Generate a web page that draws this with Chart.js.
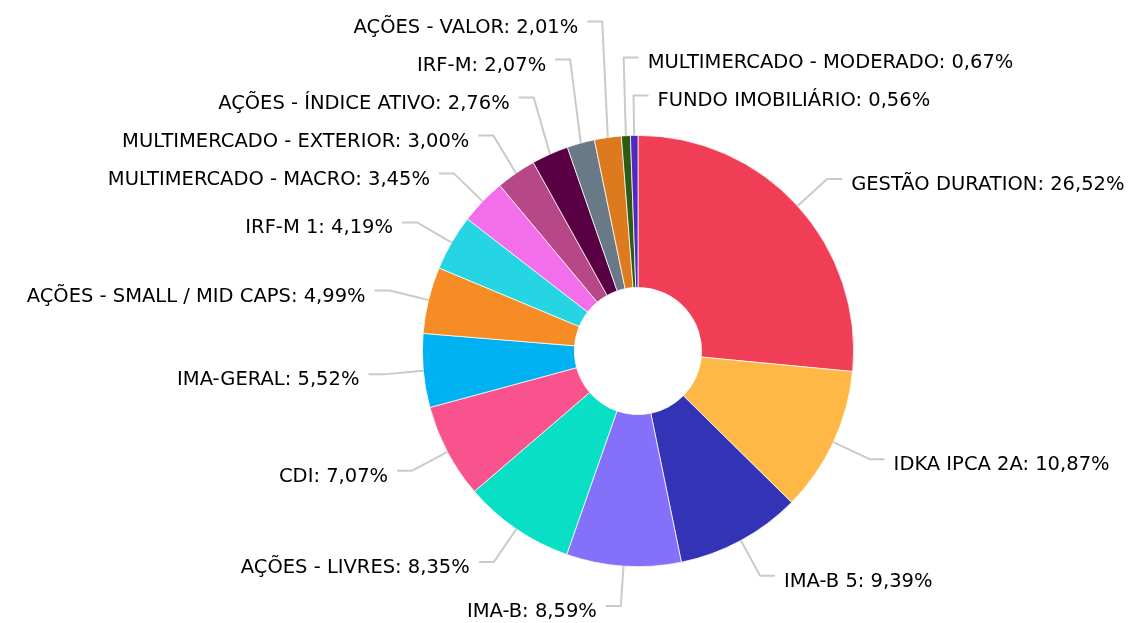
<!DOCTYPE html>
<html><head><meta charset="utf-8">
<script src="https://cdn.jsdelivr.net/npm/chart.js@4.4.0/dist/chart.umd.min.js"></script>
<style>html,body{margin:0;padding:0;background:#fff;}canvas{display:block;}</style>
</head><body>
<canvas id="c" width="1139" height="623"></canvas>
<script>
const categories = [
  "GESTÃO DURATION", "IDKA IPCA 2A", "IMA-B 5", "IMA-B", "AÇÕES - LIVRES", "CDI",
  "IMA-GERAL", "AÇÕES - SMALL / MID CAPS", "IRF-M 1", "MULTIMERCADO - MACRO",
  "MULTIMERCADO - EXTERIOR", "AÇÕES - ÍNDICE ATIVO", "IRF-M", "AÇÕES - VALOR",
  "MULTIMERCADO - MODERADO", "FUNDO IMOBILIÁRIO"
];
const values = [26.52, 10.87, 9.39, 8.59, 8.35, 7.07, 5.52, 4.99, 4.19, 3.45, 3.00, 2.76, 2.07, 2.01, 0.67, 0.56];
const colors = [
  "#EF3E55", "#FFB846", "#3333B5", "#8570FA", "#08DFC5", "#F9538D",
  "#00B1F2", "#F68C25", "#25D5E3", "#F26EEA", "#B64887", "#590045",
  "#697986", "#DD7A1D", "#2E5A12", "#5229BE"
];

const LABEL_FONT = '19.5px "DejaVu Sans"';
const ELBOW = 40, HSEG = 15, GAP = 9, MIN_SPACING = 38, BASE_OFF = 11;

const leaderPlugin = {
  id: 'leaders',
  afterDraw(chart) {
    const ctx = chart.ctx;
    const meta = chart.getDatasetMeta(0);
    const items = meta.data.map((arc, i) => {
      const p = arc.getProps(['x', 'y', 'startAngle', 'endAngle', 'outerRadius'], true);
      const mid = (p.startAngle + p.endAngle) / 2;
      const c = Math.cos(mid), s = Math.sin(mid);
      const upper = s < 0;
      const right = upper ? c > -0.1 : c > 0;
      let a = (mid + Math.PI / 2) % (2 * Math.PI);
      if (a < 0) a += 2 * Math.PI;
      const key = right ? (a > Math.PI ? a - 2 * Math.PI : a) : -a;
      return {
        i, right, key,
        ox: p.x + p.outerRadius * c, oy: p.y + p.outerRadius * s,
        ex: p.x + (p.outerRadius + ELBOW) * c, ey: p.y + (p.outerRadius + ELBOW) * s,
        text: categories[i] + ': ' + values[i].toFixed(2).replace('.', ',') + '%'
      };
    });
    [true, false].forEach(side => {
      const list = items.filter(d => d.right === side).sort((a, b) => a.key - b.key);
      for (let k = list.length - 2; k >= 0; k--) {
        list[k].ey = Math.min(list[k].ey, list[k + 1].ey - MIN_SPACING);
      }
    });
    ctx.save();
    ctx.strokeStyle = '#cacaca';
    ctx.lineWidth = 2;
    ctx.lineJoin = 'round';
    ctx.font = LABEL_FONT;
    ctx.fillStyle = '#000';
    ctx.textBaseline = 'alphabetic';
    items.forEach(d => {
      const dir = d.right ? 1 : -1;
      ctx.beginPath();
      ctx.moveTo(d.ox, d.oy);
      ctx.lineTo(d.ex, d.ey);
      ctx.lineTo(d.ex + dir * HSEG, d.ey);
      ctx.stroke();
      ctx.textAlign = d.right ? 'left' : 'right';
      ctx.fillText(d.text, d.ex + dir * (HSEG + GAP), d.ey + BASE_OFF);
    });
    ctx.restore();
  }
};

new Chart(document.getElementById('c'), {
  type: 'doughnut',
  data: {
    labels: categories,
    datasets: [{
      data: values,
      backgroundColor: colors,
      borderColor: '#ffffff',
      borderWidth: 0.75,
      hoverOffset: 0
    }]
  },
  options: {
    responsive: false,
    devicePixelRatio: 1,
    animation: false,
    cutout: '29.5%',
    layout: { padding: { left: 422, right: 285, top: 135, bottom: 56 } },
    plugins: { legend: { display: false }, tooltip: { enabled: false } }
  },
  plugins: [leaderPlugin]
});
</script>
</body></html>
